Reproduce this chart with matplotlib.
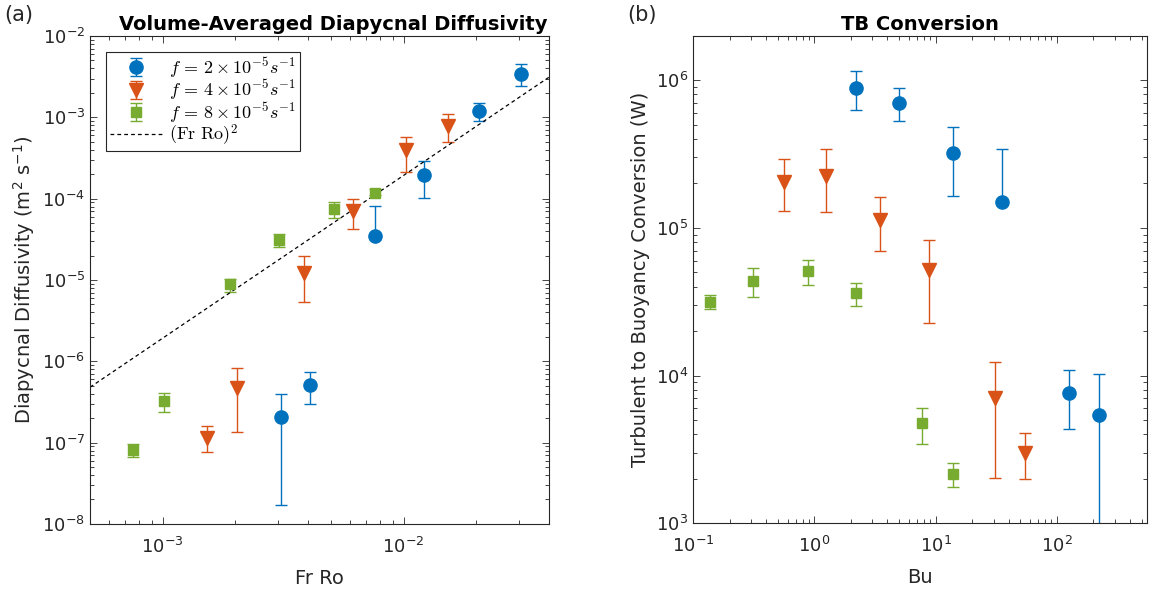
"""Diapycnal diffusivity vs Fr Ro and TB conversion vs Bu for three Coriolis values."""

import numpy as np
import matplotlib.pyplot as plt
from matplotlib.font_manager import FontProperties

# --- panel (a): volume-averaged diapycnal diffusivity ---
frro_f2 = [3.1e-3, 4.07e-3, 7.58e-3, 1.22e-2, 2.05e-2, 3.07e-2]
kappa_f2 = [2.06e-7, 5.09e-7, 3.5e-5, 1.94e-4, 1.21e-3, 3.43e-3]
kappa_f2_lo = [1.70e-8, 2.95e-7, 3.2e-5, 1.01e-4, 9.0e-4, 2.45e-3]
kappa_f2_hi = [3.95e-7, 7.36e-7, 8.2e-5, 2.9e-4, 1.5e-3, 4.49e-3]

frro_f4 = [1.53e-3, 2.03e-3, 3.85e-3, 6.15e-3, 1.02e-2, 1.535e-2]
kappa_f4 = [1.13e-7, 4.65e-7, 1.23e-5, 7.03e-5, 3.96e-4, 7.89e-4]
kappa_f4_lo = [7.6e-8, 1.37e-7, 5.4e-6, 4.27e-5, 2.14e-4, 4.97e-4]
kappa_f4_hi = [1.58e-7, 8.25e-7, 1.97e-5, 9.8e-5, 5.77e-4, 1.11e-3]

frro_f8 = [7.57e-4, 1.017e-3, 1.9e-3, 3.05e-3, 5.13e-3, 7.58e-3]
kappa_f8 = [8.09e-8, 3.21e-7, 8.83e-6, 3.1e-5, 7.45e-5, 1.19e-4]
kappa_f8_lo = [6.58e-8, 2.36e-7, 7.16e-6, 2.56e-5, 5.82e-5, 1.1e-4]
kappa_f8_hi = [9.66e-8, 4.1e-7, 1.02e-5, 3.64e-5, 9.0e-5, 1.3e-4]

scaling_x = [5e-4, 4e-2]
scaling_y = [4.8e-7, 3.1e-3]

# --- panel (b): turbulent to buoyancy conversion ---
bu_f2 = [2.21, 4.93, 13.8, 34.9, 124.5, 222.0]
tb_f2 = [8.87e5, 7.02e5, 3.19e5, 1.49e5, 7.66e3, 5.41e3]
tb_f2_lo = [6.3e5, 5.26e5, 1.64e5, 1.43e5, 4.33e3, 5.0e2]
tb_f2_hi = [1.15e6, 8.83e5, 4.79e5, 3.41e5, 1.09e4, 1.03e4]

bu_f4 = [0.558, 1.25, 3.44, 8.87, 30.6, 54.7]
tb_f4 = [2.05e5, 2.25e5, 1.13e5, 5.18e4, 7.02e3, 3.0e3]
tb_f4_lo = [1.29e5, 1.27e5, 6.93e4, 2.26e4, 2.04e3, 2.0e3]
tb_f4_hi = [2.92e5, 3.4e5, 1.61e5, 8.3e4, 1.23e4, 4.11e3]

bu_f8 = [0.137, 0.312, 0.876, 2.21, 7.73, 13.8]
tb_f8 = [3.16e4, 4.38e4, 5.08e4, 3.61e4, 4.75e3, 2.17e3]
tb_f8_lo = [2.81e4, 3.42e4, 4.1e4, 2.96e4, 3.46e3, 1.75e3]
tb_f8_hi = [3.51e4, 5.37e4, 6.06e4, 4.26e4, 6.04e3, 2.58e3]

labels = [r"$f\,=\,2\times10^{-5} s^{-1}$",
          r"$f\,=\,4\times10^{-5} s^{-1}$",
          r"$f\,=\,8\times10^{-5} s^{-1}$"]
colors = ["#0072BD", "#D95319", "#77AC30"]
markers = ["o", "v", "s"]
msizes = [9.5, 10.5, 7]

AX_COLOR = "0.15"


def _yerr(val, lo, hi):
    val, lo, hi = map(np.asarray, (val, lo, hi))
    return np.vstack([val - lo, hi - val])


def _style(ax):
    ax.set_xscale("log")
    ax.set_yscale("log")
    ax.tick_params(which="both", direction="in", top=True, right=True,
                   colors=AX_COLOR, labelsize=13, width=0.6)
    ax.tick_params(axis="x", which="both", pad=9)
    ax.tick_params(which="major", length=5)
    ax.tick_params(which="minor", length=3)
    for sp in ax.spines.values():
        sp.set_color(AX_COLOR)
        sp.set_linewidth(0.8)


def _series(ax, x, y, lo, hi, i):
    return ax.errorbar(x, y, yerr=_yerr(y, lo, hi), fmt=markers[i],
                       color=colors[i], ms=msizes[i], mec=colors[i],
                       elinewidth=1.0, capsize=4.5, capthick=1.0,
                       label=labels[i])


def main():
    fig = plt.figure(figsize=(11.56, 5.93), dpi=100)
    ax1 = fig.add_axes([0.0779, 0.1164, 0.3968, 0.8229])
    ax2 = fig.add_axes([0.5997, 0.1175, 0.3923, 0.8225])

    # (a)
    _style(ax1)
    h = [_series(ax1, frro_f2, kappa_f2, kappa_f2_lo, kappa_f2_hi, 0),
         _series(ax1, frro_f4, kappa_f4, kappa_f4_lo, kappa_f4_hi, 1),
         _series(ax1, frro_f8, kappa_f8, kappa_f8_lo, kappa_f8_hi, 2)]
    line, = ax1.plot(scaling_x, scaling_y, "k--", lw=0.9, dashes=(3, 2.5),
                     label=r"$(\mathrm{Fr\ Ro})^2$")
    h.append(line)
    ax1.set_xlim(5e-4, 4e-2)
    ax1.set_ylim(1e-8, 1e-2)
    ax1.set_xlabel("Fr Ro", fontsize=14, color=AX_COLOR, labelpad=9)
    ax1.set_ylabel(r"Diapycnal Diffusivity (m$^2$ s$^{-1}$)", fontsize=14,
                   color=AX_COLOR)
    ax1.set_title("Volume-Averaged Diapycnal Diffusivity", fontsize=14,
                  fontweight="bold", pad=4, x=0.53)
    leg = ax1.legend(handles=h, loc="upper left",
                     bbox_to_anchor=(0.035, 0.968),
                     prop=FontProperties(size=13, math_fontfamily="cm"),
                     fancybox=False, edgecolor=AX_COLOR, framealpha=1,
                     handlelength=2.9, handletextpad=0.4, borderpad=0.2,
                     labelspacing=-0.12, borderaxespad=0)
    leg.get_frame().set_linewidth(0.8)

    # (b)
    _style(ax2)
    _series(ax2, bu_f2, tb_f2, tb_f2_lo, tb_f2_hi, 0)
    _series(ax2, bu_f4, tb_f4, tb_f4_lo, tb_f4_hi, 1)
    _series(ax2, bu_f8, tb_f8, tb_f8_lo, tb_f8_hi, 2)
    ax2.set_xlim(1e-1, 550)
    ax2.set_ylim(1e3, 2e6)
    ax2.set_xlabel("Bu", fontsize=14, color=AX_COLOR, labelpad=9)
    ax2.set_ylabel("Turbulent to Buoyancy Conversion (W)", fontsize=14,
                   color=AX_COLOR)
    ax2.set_title("TB Conversion", fontsize=14, fontweight="bold", pad=4)

    fig.text(0.004, 0.965, "(a)", fontsize=15, color=AX_COLOR)
    fig.text(0.543, 0.965, "(b)", fontsize=15, color=AX_COLOR)

    fig.savefig("out.png", dpi=100)


if __name__ == "__main__":
    main()
